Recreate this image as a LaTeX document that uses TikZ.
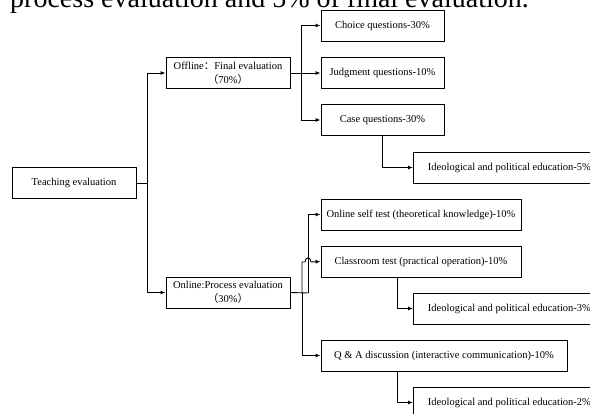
\documentclass[tikz,border=0pt]{standalone}
\usepackage{fontspec}
\setmainfont{Liberation Serif}
\newfontfamily\cjk{Noto Sans CJK SC}
\usetikzlibrary{positioning, calc}
\usetikzlibrary{arrows, arrows.meta}
\tikzset{>={Latex[length=5pt,width=4pt]}}
\tikzset{ % box styles
  my box/.style={draw,line width=0.9pt,rectangle,inner sep=2pt,minimum height=31pt,
    align=center,font=\fontsize{10.5}{14}\selectfont},
  root/.style={my box,minimum width=124pt},
  branch/.style={my box,minimum width=124pt},
  leaf/.style={my box,minimum width=#1},
  extra/.style={my box,minimum width=192pt,anchor=west},
  link/.style={line width=0.9pt}
}

\begin{document}
\begin{tikzpicture}[x=1pt,y=-1pt]
\useasboundingbox (0,0) rectangle (590,414);
\clip (0,0) rectangle (590,414);

% caption left over from the page
\node[anchor=base west,inner sep=0,font=\fontsize{28}{28}\selectfont] (cap) at (10,8)
  {process evaluation and 5\% of final evaluation.};

\node[root]   (teach) at (74,183)    {Teaching evaluation};
\node[branch] (off)   at (228,73)    {Offline{\cjk ：}Final evaluation\\{\cjk （}70\%{\cjk ）}};
\node[branch] (on)    at (228,292.5) {Online:Process evaluation\\{\cjk （}30\%{\cjk ）}};

% offline parts
\foreach\n/\y/\t in {choice/25.5/Choice questions-30\%,
                     judge/73/Judgment questions-10\%,
                     case/120/Case questions-30\%}
  \node[leaf=123pt] (\n) at (382.5,\y) {\t};
\node[extra] (ide5) at (413,167.5) {Ideological and political education-5\%};

% online parts
\node[leaf=200pt] (self)  at (421,214.5) {Online self test (theoretical knowledge)-10\%};
\node[leaf=200pt] (class) at (421,261.5) {Classroom test (practical operation)-10\%};
\node[extra]      (ide3)  at (413,308.5) {Ideological and political education-3\%};
\node[leaf=246pt] (qa)    at (444,355.5) {Q \& A discussion (interactive communication)-10\%};
\node[extra]      (ide2)  at (413,402.5) {Ideological and political education-2\%};

% connections
\coordinate (tj) at (147,183);
\draw[link] (teach.east) -- (tj);
\foreach\n in {off,on}
  \draw[link,->] (tj) |- (\n.west);

\coordinate (oj) at (301,73);
\draw[link] (off.east) -- (oj);
\foreach\n in {choice,judge,case}
  \draw[link,->] (oj) |- (\n.west);
\draw[link,->] (case.south) |- (ide5.west);

\coordinate (nj1) at (302,293);
\coordinate (nj2) at (308,293);
\draw[link] (on.east) -- (nj2);
\draw[link,->] (nj2) |- (self.west);
\draw[link,->] (nj1) |- (qa.west);
\draw[link,->] (nj1) -- (302,262) -- (305,262) .. controls (305,256.5) and (311,256.5) .. (311,262) -- (class.west);
\foreach\a/\b in {class/ide3,qa/ide2}
  \draw[link,->] ($(\a.south west)+(77,0)$) |- (\b.west);
\end{tikzpicture}
\end{document}
